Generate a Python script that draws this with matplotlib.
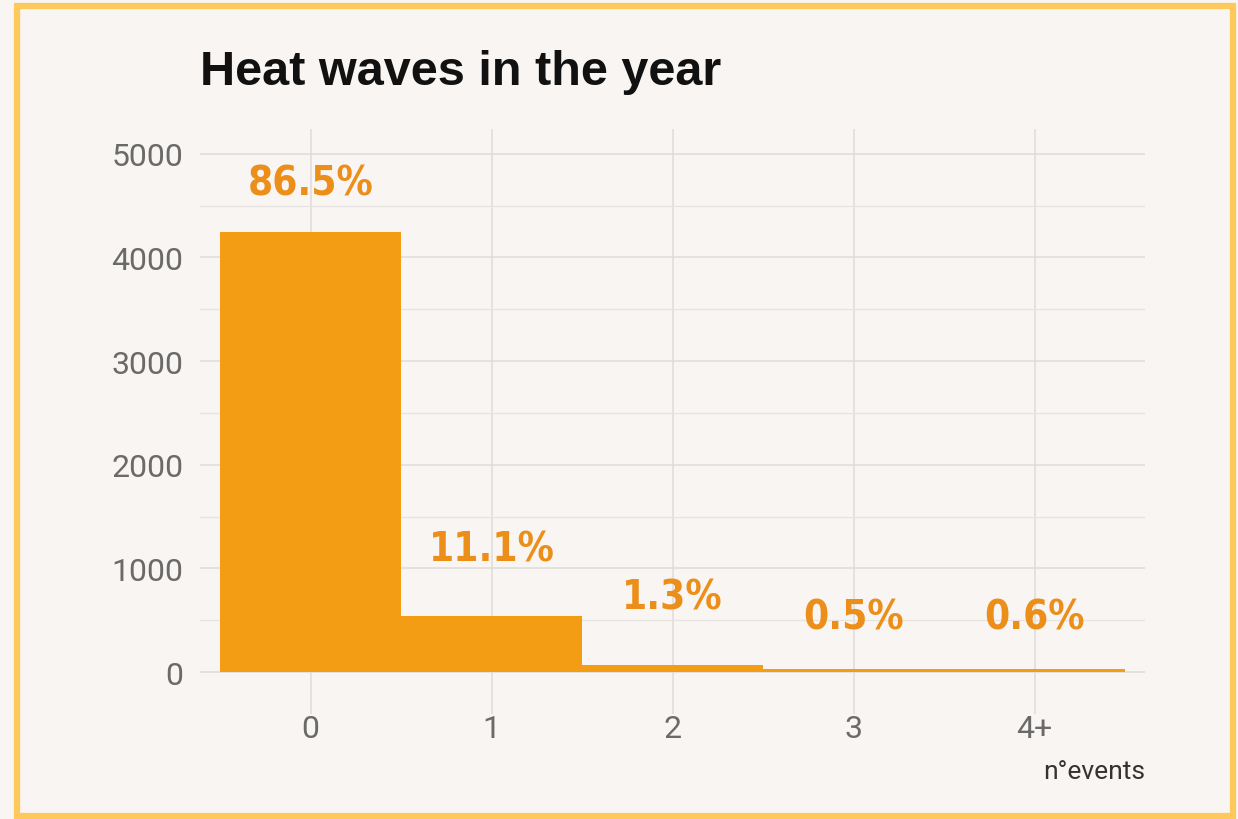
import numpy as np
import matplotlib
matplotlib.use("Agg")
import matplotlib.pyplot as plt
from matplotlib.patches import Rectangle
from matplotlib.ticker import MultipleLocator
from matplotlib import font_manager

# data
categories = ["0", "1", "2", "3", "4+"]
counts     = [4247, 545, 64, 25, 29]
pct_labels = ["86.5%", "11.1%", "1.3%", "0.5%", "0.6%"]
label_y    = [4710, 1187, 724, 531, 531]

BG     = "#F8F5F2"
BAR    = "#F29D13"
LABEL  = "#EC8E1A"
BORDER = "#FFC85A"

# look for a narrow bold face for the percentage labels
narrow = None
for f in font_manager.fontManager.ttflist:
    if ("Narrow" in f.name or "Condensed" in f.name or f.stretch == "condensed"
            or "condensed" in str(f.stretch)):
        narrow = f
        break
if narrow is not None:
    lab_font = dict(family=[narrow.name, "DejaVu Sans"], stretch=narrow.stretch)
else:
    lab_font = dict(family=["DejaVu Sans"])

fig = plt.figure(figsize=(12.38, 8.20), dpi=100, facecolor=BG)
ax = fig.add_axes([0.1616, 0.128, 0.7634, 0.7135], facecolor=BG)

x = np.arange(len(categories))
ax.bar(x, counts, width=1.0, color=BAR, zorder=3)

for xi, lab, ly in zip(x, pct_labels, label_y):
    ax.text(xi, ly, lab, ha="center", va="center", color=LABEL,
            fontsize=29, fontweight="bold", zorder=4, **lab_font)

ax.set_xlim(-0.61, 4.61)
ax.set_ylim(-405, 5240)
ax.set_xticks(x)
ax.set_xticklabels(categories)
ax.set_yticks(np.arange(0, 5001, 1000))
ax.yaxis.set_minor_locator(MultipleLocator(500))

ax.grid(which="major", color="#DEDBD8", linewidth=1.1, zorder=0)
ax.grid(which="minor", axis="y", color="#E6E3E0", linewidth=0.9, zorder=0)
for s in ax.spines.values():
    s.set_visible(False)
ax.tick_params(which="both", length=0)
ax.tick_params(axis="y", pad=12)
ax.tick_params(axis="x", pad=0)
for t in ax.get_xticklabels() + ax.get_yticklabels():
    t.set_fontsize(23)
    t.set_color("#6A6A6A")
    t.set_family(["Roboto", "DejaVu Sans"])
    t.set_fontweight("normal")

fig.text(0.1616, 0.912, "Heat waves in the year", fontsize=35, fontweight="bold",
         color="#111111", ha="left", va="center",
         family=["Liberation Sans", "DejaVu Sans"])
fig.text(0.925, 0.058, "n°events", fontsize=19, color="#333333",
         ha="right", va="center", family=["Roboto", "DejaVu Sans"])

# yellow frame
fig.patches.append(Rectangle((17 / 1238, 3 / 820), 1216 / 1238, 810 / 820,
                             transform=fig.transFigure, fill=False,
                             edgecolor=BORDER, linewidth=4.5))

fig.savefig("out.png", dpi=100, facecolor=BG)
